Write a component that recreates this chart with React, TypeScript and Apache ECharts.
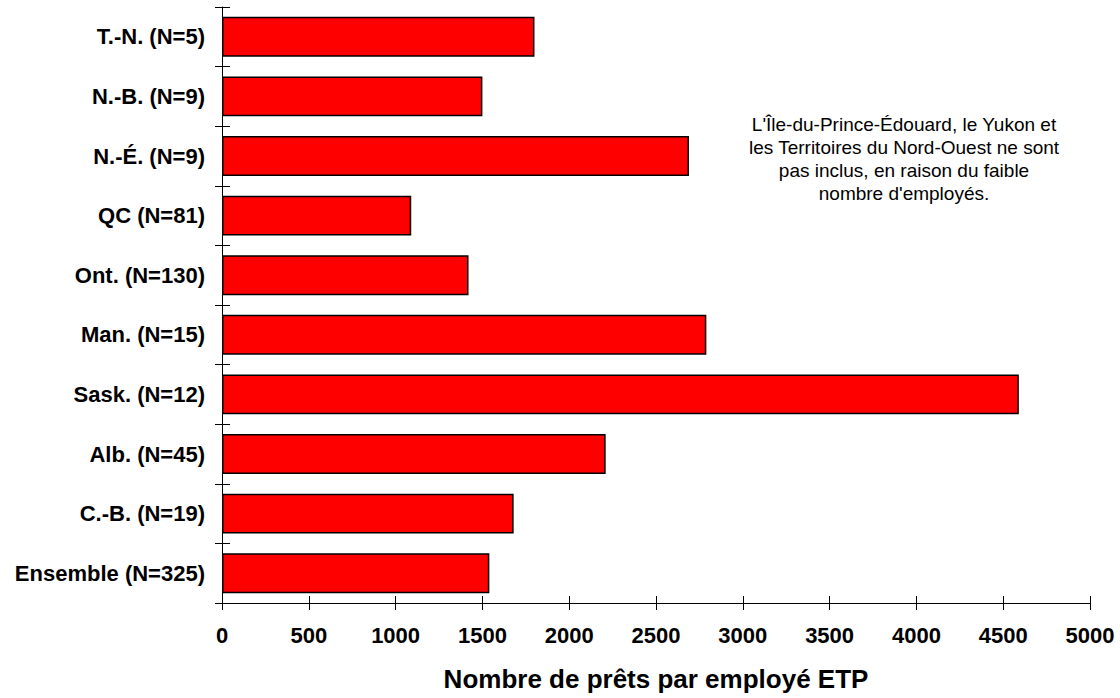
import React, { useEffect, useRef } from "react";
import * as echarts from "echarts";

const categories: string[] = [
  "T.-N. (N=5)",
  "N.-B. (N=9)",
  "N.-É. (N=9)",
  "QC (N=81)",
  "Ont. (N=130)",
  "Man. (N=15)",
  "Sask. (N=12)",
  "Alb. (N=45)",
  "C.-B. (N=19)",
  "Ensemble (N=325)",
];

const values: number[] = [1800, 1500, 2690, 1090, 1420, 2790, 4590, 2210, 1680, 1540];

const xMin = 0;
const xMax = 5000;
const xInterval = 500;

const axisTitle = "Nombre de prêts par employé ETP";
const noteLines: string[] = [
  "L'Île-du-Prince-Édouard, le Yukon et",
  "les Territoires du Nord-Ouest ne sont",
  "pas inclus, en raison du faible",
  "nombre d'employés.",
];

const FONT = "'Liberation Sans', Arial, sans-serif";

export default function App() {
  const ref = useRef<HTMLDivElement>(null);

  useEffect(() => {
    if (!ref.current) return;
    const chart = echarts.init(ref.current, undefined, { renderer: "svg" });
    const xCommon = {
      type: "value" as const,
      min: xMin,
      max: xMax,
      interval: xInterval,
      position: "bottom" as const,
      splitLine: { show: false },
    };
    const yCommon = {
      type: "category" as const,
      data: categories,
      inverse: true,
      position: "left" as const,
      boundaryGap: true,
    };
    chart.setOption({
      animation: false,
      backgroundColor: "#ffffff",
      textStyle: { fontFamily: FONT },
      grid: { left: 222, right: 30, top: 7, bottom: 95, containLabel: false },
      xAxis: [
        {
          ...xCommon,
          axisLine: { show: true, lineStyle: { color: "#000", width: 1 } },
          axisTick: { show: true, inside: false, length: 7, lineStyle: { color: "#000", width: 1 } },
          axisLabel: {
            show: true,
            margin: 21,
            color: "#000",
            fontSize: 22,
            fontWeight: "bold",
            fontFamily: FONT,
            formatter: (v: number) => String(v),
          },
          name: axisTitle,
          nameLocation: "middle",
          nameGap: 63,
          nameTextStyle: { color: "#000", fontSize: 26, fontWeight: "bold", fontFamily: FONT },
        },
        {
          ...xCommon,
          axisLine: { show: false },
          axisTick: { show: true, inside: true, length: 7, lineStyle: { color: "#000", width: 1 } },
          axisLabel: { show: false },
        },
      ],
      yAxis: [
        {
          ...yCommon,
          axisLine: { show: true, lineStyle: { color: "#000", width: 1 } },
          axisTick: { show: true, inside: false, length: 7, alignWithLabel: false, lineStyle: { color: "#000", width: 1 } },
          axisLabel: {
            show: true,
            margin: 17,
            color: "#000",
            fontSize: 22,
            fontWeight: "bold",
            fontFamily: FONT,
          },
          splitLine: { show: false },
        },
        {
          ...yCommon,
          axisLine: { show: false },
          axisTick: { show: true, inside: true, length: 8, alignWithLabel: false, lineStyle: { color: "#000", width: 1 } },
          axisLabel: { show: false },
          splitLine: { show: false },
        },
      ],
      series: [
        {
          type: "bar",
          xAxisIndex: 0,
          yAxisIndex: 0,
          data: values,
          barCategoryGap: "33%",
          itemStyle: { color: "#FF0000", borderColor: "#000", borderWidth: 1.5 },
        },
      ],
      graphic: [
        {
          type: "text",
          x: 904,
          y: 113,
          style: {
            text: noteLines.join("\n"),
            fill: "#000",
            fontSize: 19,
            lineHeight: 23,
            fontFamily: FONT,
            align: "center",
            verticalAlign: "top",
          },
        },
      ],
    });
    return () => chart.dispose();
  }, []);

  return (
    <div
      ref={ref}
      style={{ position: "fixed", left: 0, top: 0, width: 1120, height: 698, background: "#fff" }}
    />
  );
}
